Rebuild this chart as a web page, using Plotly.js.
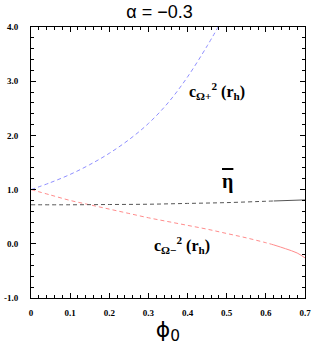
<!DOCTYPE html>
<html>
<head>
<meta charset="utf-8">
<script src="https://cdn.plot.ly/plotly-3.0.1.min.js"></script>
<style>html,body{margin:0;padding:0;background:#fff;}#chart{width:319px;height:346px;}</style>
</head>
<body>
<div id="chart"></div>
<script>
// c_{Omega+}^2(r_h)
var xPlus = [0, 0.05, 0.1, 0.15, 0.2, 0.25, 0.3, 0.35, 0.4, 0.45, 0.478];
var yPlus = [1.0, 1.13, 1.28, 1.46, 1.67, 1.92, 2.22, 2.6, 3.08, 3.65, 4.0];
// c_{Omega-}^2(r_h), dashed part then solid tail
var xMinus = [0, 0.05, 0.1, 0.15, 0.2, 0.25, 0.3, 0.35, 0.4, 0.45, 0.5, 0.55, 0.6, 0.62];
var yMinus = [1.0, 0.9, 0.8, 0.72, 0.64, 0.56, 0.48, 0.41, 0.34, 0.27, 0.19, 0.11, 0.02, -0.02];
var xMinusTail = [0.62, 0.65, 0.68, 0.7];
var yMinusTail = [-0.02, -0.09, -0.17, -0.26];
// eta-bar
var xEta = [0, 0.1, 0.2, 0.3, 0.4, 0.5, 0.6, 0.62];
var yEta = [0.72, 0.72, 0.725, 0.73, 0.745, 0.76, 0.785, 0.79];
var xEtaTail = [0.62, 0.65, 0.7];
var yEtaTail = [0.79, 0.80, 0.81];
// ticks
var xTickVals = [0, 0.1, 0.2, 0.3, 0.4, 0.5, 0.6, 0.7];
var xTickText = ["0", "0.1", "0.2", "0.3", "0.4", "0.5", "0.6", "0.7"];
var yTickVals = [-1, 0, 1, 2, 3, 4];
var yTickText = ["-1.0", "0.0", "1.0", "2.0", "3.0", "4.0"];

var dash = "4px,3px";
var traces = [
  {x: xPlus, y: yPlus, mode: "lines", line: {color: "#8f8fff", width: 1, dash: dash, shape: "spline"}, hoverinfo: "skip"},
  {x: xMinus, y: yMinus, mode: "lines", line: {color: "#ff8c8c", width: 1, dash: dash, shape: "spline"}, hoverinfo: "skip"},
  {x: xMinusTail, y: yMinusTail, mode: "lines", line: {color: "#ff8c8c", width: 1, shape: "spline"}, hoverinfo: "skip"},
  {x: xEta, y: yEta, mode: "lines", line: {color: "#555555", width: 1, dash: dash, shape: "spline"}, hoverinfo: "skip"},
  {x: xEtaTail, y: yEtaTail, mode: "lines", line: {color: "#555555", width: 1}, hoverinfo: "skip"}
];

var tickFont = {family: "Liberation Serif, serif", size: 9, color: "#000", weight: "bold"};
var labFont = {family: "Liberation Serif, serif", size: 16, color: "#000", weight: "bold"};

var layout = {
  width: 319, height: 346,
  margin: {l: 31, r: 14, t: 27, b: 48},
  paper_bgcolor: "#fff", plot_bgcolor: "#fff",
  showlegend: false,
  title: {text: "α = −0.3", x: 0.5, xref: "container", y: 0.965, yref: "container", yanchor: "middle",
          font: {family: "Liberation Sans, sans-serif", size: 18, color: "#000"}},
  xaxis: {
    range: [0, 0.7], tickmode: "array", tickvals: xTickVals, ticktext: xTickText,
    ticks: "inside", ticklen: 5, tickcolor: "#000", tickwidth: 1,
    minor: {dtick: 0.02, ticks: "inside", ticklen: 3, tickcolor: "#000"},
    showline: true, linecolor: "#000", linewidth: 1, mirror: "ticks",
    showgrid: false, zeroline: false, tickfont: tickFont, ticklabelstandoff: 6,
    title: {text: "ϕ<sub>0</sub>", font: {family: "DejaVu Sans, sans-serif", size: 22, color: "#000"}, standoff: 4}
  },
  yaxis: {
    range: [-1, 4], tickmode: "array", tickvals: yTickVals, ticktext: yTickText,
    ticks: "inside", ticklen: 5, tickcolor: "#000", tickwidth: 1,
    minor: {dtick: 0.2, ticks: "inside", ticklen: 3, tickcolor: "#000"},
    showline: true, linecolor: "#000", linewidth: 1, mirror: "ticks",
    showgrid: false, zeroline: false, tickfont: tickFont, ticklabelstandoff: 10
  },
  annotations: [
    {x: 0.475, y: 2.82, xref: "x", yref: "y", showarrow: false, xanchor: "center", yanchor: "middle",
     text: "c<sub>Ω+</sub><sup>2</sup> (r<sub>h</sub>)", font: labFont},
    {x: 0.502, y: 1.15, xref: "x", yref: "y", showarrow: false, xanchor: "center", yanchor: "middle",
     text: "<span style='text-decoration:overline'>η</span>", font: {family: "Liberation Serif, serif", size: 20, color: "#000", weight: "bold"}},
    {x: 0.385, y: -0.03, xref: "x", yref: "y", showarrow: false, xanchor: "center", yanchor: "middle",
     text: "c<sub>Ω−</sub><sup>2</sup> (r<sub>h</sub>)", font: labFont}
  ]
};

Plotly.newPlot("chart", traces, layout, {staticPlot: true, displayModeBar: false});
</script>
</body>
</html>
